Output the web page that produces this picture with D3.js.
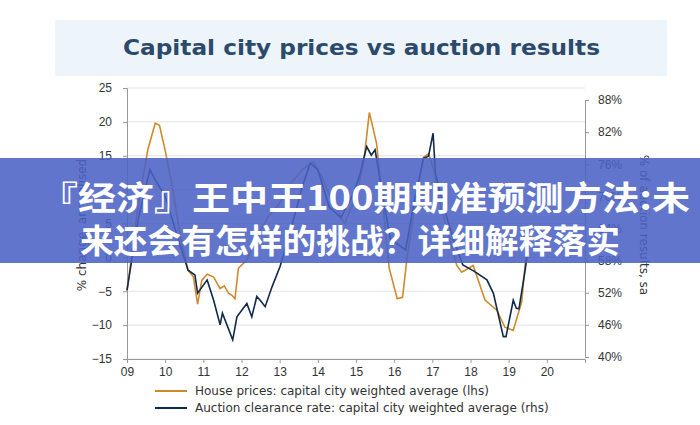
<!DOCTYPE html>
<html><head><meta charset="utf-8">
<script src="https://cdn.jsdelivr.net/npm/d3@7"></script>
<style>body{margin:0;background:#fff;font-family:"DejaVu Sans",sans-serif}</style>
</head><body>
<script>
// data
var houseYears = [2009.0,2009.3,2009.55,2009.74,2009.85,2010.0,2010.2,2010.4,2010.6,2010.74,2010.85,2010.96,2011.1,2011.27,2011.44,2011.55,2011.66,2011.75,2011.83,2011.92,2012.14,2012.4,2012.7,2013.0,2013.3,2013.6,2013.88,2014.1,2014.4,2014.7,2015.0,2015.2,2015.35,2015.54,2015.7,2015.87,2016.08,2016.22,2016.33,2016.55,2016.77,2016.9,2017.03,2017.2,2017.45,2017.64,2017.77,2018.07,2018.38,2018.69,2018.9,2019.12,2019.34,2019.5];
var houseVals  = [-5,8,16,19.8,19.5,15.8,10,3,-1.9,-2.9,-6.9,-3.4,-2.5,-2.9,-4.6,-4.2,-5.3,-5.6,-6.1,-1.6,-0.4,3,6,8,11,13,14.1,12,8,5,9,14,21.4,16.8,8,-1.6,-6.1,-5.9,-0.4,8,14.8,15.3,13.1,8,3,-1.2,-2.2,-1.2,-6.3,-7.8,-10.3,-10.8,-6.6,3];
var auctionYears = [2009.0,2009.3,2009.6,2009.75,2010.0,2010.3,2010.6,2010.78,2010.85,2011.1,2011.27,2011.44,2011.5,2011.77,2011.88,2012.14,2012.27,2012.4,2012.5,2012.62,2012.8,2013.01,2013.3,2013.6,2013.8,2014.0,2014.3,2014.6,2014.9,2015.1,2015.28,2015.4,2015.5,2015.7,2015.9,2016.1,2016.3,2016.55,2016.77,2016.9,2017.02,2017.08,2017.3,2017.55,2017.8,2018.1,2018.43,2018.6,2018.86,2018.93,2019.12,2019.2,2019.27,2019.43,2019.55];
var auctionVals  = [52.5,66,75,73,70,63,56.2,55.3,51.9,54.4,50.6,46,48.2,43.2,47.5,50,47.5,51.3,50.5,49.4,53.1,56.9,64,72,76.2,75,68,66,70,74,79.3,77.7,78.7,70,62,61,60,70,77.1,77.5,81.8,74.3,68,62,57.2,56,54.4,51.9,43.8,43.8,50.6,49.1,49,56.2,62];
var xTicks = [2009,2010,2011,2012,2013,2014,2015,2016,2017,2018,2019,2020];
var lhsTicks = [25,20,15,10,5,0,-5,-10,-15];
var rhsTicks = [88,82,76,70,64,58,52,46,40];
var seriesNames = ["House prices: capital city weighted average (lhs)", "Auction clearance rate: capital city weighted average (rhs)"];
var seriesColors = ["#d08a2e", "#0f2a4a"];

var W = 700, H = 425;
var svg = d3.select("body").append("svg").attr("width", W).attr("height", H);

// header
svg.append("rect").attr("x", 55).attr("y", 20).attr("width", 612).attr("height", 56).attr("fill", "#eef5fa");
svg.append("text").attr("x", 123).attr("y", 55)
    .attr("font-size", 22).attr("font-weight", "bold").attr("fill", "#2c4a6b")
    .attr("textLength", 477).attr("lengthAdjust", "spacingAndGlyphs")
    .text("Capital city prices vs auction results");

var x = d3.scaleLinear().domain([2009, 2021]).range([127, 585]);
var yL = d3.scaleLinear().domain([-15, 25]).range([359, 88]);
var yR = d3.scaleLinear().domain([40, 88]).range([357, 100]);

// grid
svg.append("g").selectAll("line").data(lhsTicks).enter().append("line")
    .attr("x1", 127).attr("x2", 585).attr("y1", d => yL(d)).attr("y2", d => yL(d))
    .attr("stroke", "#e3e3e3");

var axL = svg.append("g").attr("transform", "translate(127,0)")
    .call(d3.axisLeft(yL).tickValues(lhsTicks).tickSize(4));
var axR = svg.append("g").attr("transform", "translate(585,0)")
    .call(d3.axisRight(yR).tickValues(rhsTicks).tickSize(4).tickFormat(d => d + "%"));
var axB = svg.append("g").attr("transform", "translate(0,359)")
    .call(d3.axisBottom(x).tickValues(xTicks).tickSize(4).tickFormat(d => String(d).slice(2)));
[axL, axR, axB].forEach(function(a) {
  a.selectAll("path,line").attr("stroke", "#999");
  a.selectAll("text").attr("font-size", 12).attr("fill", "#333");
});
axL.selectAll("text").attr("dx", -8);
axR.selectAll("text").attr("dx", 6);
axB.selectAll("text").attr("dy", 10);

svg.append("text").attr("transform", "translate(86,225) rotate(-90)").attr("text-anchor", "middle")
    .attr("font-size", 12).attr("fill", "#333").text("% change, annualised");
svg.append("text").attr("transform", "translate(640,225) rotate(90)").attr("text-anchor", "middle")
    .attr("font-size", 12).attr("fill", "#333").text("% of auction results, sa");

// lines
var lineL = d3.line().x(d => x(d[0])).y(d => yL(d[1]));
var lineR = d3.line().x(d => x(d[0])).y(d => yR(d[1]));
svg.append("path").datum(d3.zip(houseYears, houseVals)).attr("d", lineL)
    .attr("fill", "none").attr("stroke", seriesColors[0]).attr("stroke-width", 1.6);
svg.append("path").datum(d3.zip(auctionYears, auctionVals)).attr("d", lineR)
    .attr("fill", "none").attr("stroke", seriesColors[1]).attr("stroke-width", 1.6);

// legend
var lg = svg.append("g").selectAll("g").data(seriesNames).enter().append("g")
    .attr("transform", (d, i) => "translate(155," + (391 + i * 17) + ")");
lg.append("line").attr("x2", 32).attr("stroke", (d, i) => seriesColors[i]).attr("stroke-width", 2);
lg.append("text").attr("x", 40).attr("dy", "0.35em").attr("font-size", 12).attr("fill", "#333").text(d => d);

// overlay banner
svg.append("rect").attr("x", 0).attr("y", 158).attr("width", W).attr("height", 105)
    .attr("fill", "#4a62c4").attr("opacity", 0.88);
var bannerLines = ["『经济』王中王100期期准预测方法:未", "来还会有怎样的挑战？详细解释落实"];
var bannerLen = [650, 540];
svg.append("g").selectAll("text").data(bannerLines).enter().append("text")
    .attr("x", (d, i) => i ? 80 : 40).attr("y", (d, i) => 210 + i * 43)
    .attr("font-family", "Noto Sans CJK SC").attr("font-weight", "bold")
    .attr("font-size", 33).attr("fill", "#fff")
    .attr("textLength", (d, i) => bannerLen[i]).attr("lengthAdjust", "spacingAndGlyphs")
    .text(d => d);
</script>
</body></html>
